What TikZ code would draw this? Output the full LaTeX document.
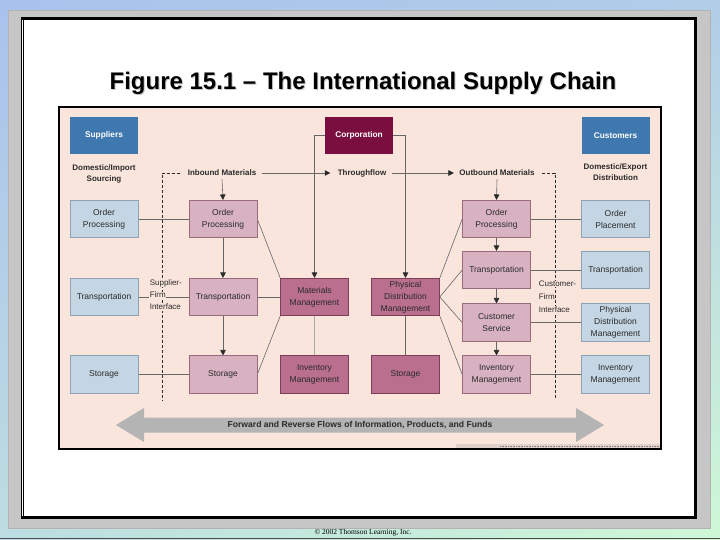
\documentclass[tikz,border=0pt]{standalone}
\usepackage{fontspec}
\setmainfont{Liberation Sans}
\newfontfamily\copyfont{Liberation Serif}
\usetikzlibrary{arrows.meta,shadings}
\definecolor{bgblue}{HTML}{A9C2EC}
\definecolor{bggreen}{HTML}{CFF8D6}
\definecolor{framegrey}{HTML}{C6C6C6}
\definecolor{diagbg}{HTML}{FAE5DD}
\definecolor{lbfill}{HTML}{C4D6E4}
\definecolor{lbline}{HTML}{8CA3B6}
\definecolor{pkfill}{HTML}{D8B2C1}
\definecolor{pkline}{HTML}{9C6A7F}
\definecolor{mvfill}{HTML}{B96F8D}
\definecolor{mvline}{HTML}{7E3E59}
\definecolor{hdblue}{HTML}{3E78AE}
\definecolor{corpc}{HTML}{7A0E3F}
\definecolor{connc}{HTML}{666666}
\definecolor{flowgrey}{HTML}{B4B4B4}
\definecolor{txtc}{HTML}{2A2A2A}
\pgfdeclarelayer{back}
\pgfdeclarelayer{lines}
\pgfsetlayers{back,lines,main}
\begin{document}
\begin{tikzpicture}[x=1pt,y=-1pt,
 bxbase/.style={line width=0.6pt, minimum width=68pt, minimum height=37.5pt, inner sep=1pt, align=center, text=txtc, font=\fontsize{8.5}{12}\selectfont},
 lbbox/.style={bxbase, fill=lbfill, draw=lbline},
 pkbox/.style={bxbase, fill=pkfill, draw=pkline},
 mvbox/.style={bxbase, fill=mvfill, draw=mvline},
 hdbox/.style={bxbase, minimum height=37pt, text=white, font=\bfseries\fontsize{8.3}{11}\selectfont},
 conn/.style={draw=connc, line width=0.6pt},
 arr/.style={conn, -{Triangle[length=5.5pt,width=5.5pt,fill=txtc,color=txtc]}},
 ifline/.style={draw=txtc, line width=0.6pt, dash pattern=on 3pt off 2pt},
 lbl/.style={font=\bfseries\fontsize{8}{11}\selectfont, align=center, text=txtc},
 iflbl/.style={font=\fontsize{8}{10}\selectfont, text=txtc, anchor=west, inner sep=0.6pt, fill=diagbg},
 titlef/.style={font=\bfseries\fontsize{24}{28}\selectfont}
]
\useasboundingbox (0,0) rectangle (720,540);
\begin{pgfonlayer}{back}
\shade[upper left=bgblue, upper right=bgblue!80!bggreen, lower left=bgblue!50!bggreen, lower right=bggreen] (0,0) rectangle (720,540);
\fill[framegrey] (8,10) rectangle (711,529);
\draw[gray!60, line width=0.8pt] (8.5,10.5) rectangle (710.5,528.5);
\fill[white] (21,18) rectangle (697,519);
\draw[black, line width=0.9pt] (21.5,519) -- (21.5,18);
\draw[black, line width=0.5pt] (23.5,516) -- (23.5,20);
\fill[black] (21,17.5) rectangle (697,20.5);
\fill[black] (694,18) rectangle (697,519);
\fill[black] (21,516) rectangle (697,519);
\draw[gray!60!black, line width=0.6pt] (0,538) -- (720,538);
\fill[diagbg] (59,107) rectangle (661,449);
\fill[diagbg!80!gray] (456,444) rectangle (660,448);
\draw[gray, densely dotted, line width=0.6pt] (500,446) -- (659,446);
\draw[black, line width=1.8pt] (59,107) rectangle (661,449);
\node[titlef, text=gray!45] (titleshadow) at (364,84) {Figure 15.1 – The International Supply Chain};
\end{pgfonlayer}

\node[titlef] (title) at (363,83) {Figure 15.1 – The International Supply Chain};
\node[font=\copyfont\fontsize{7.5}{8}\selectfont] (copy) at (363,533) {© 2002 Thomson Learning, Inc.};

\node[hdbox, fill=hdblue] (sup) at (104,135.5) {Suppliers};
\node[hdbox, fill=corpc] (corp) at (359,135.5) {Corporation};
\node[hdbox, fill=hdblue] (cust) at (615.5,135.5) {Customers};
\node[lbl] (dimp) at (104,174) {Domestic/Import\\Sourcing};
\node[lbl] (dexp) at (615.5,172) {Domestic/Export\\Distribution};
\node[lbl] (inb) at (222,173) {Inbound Materials};
\node[lbl] (thr) at (362,173) {Throughflow};
\node[lbl] (outb) at (497,173) {Outbound Materials};

\node[lbbox] (sop) at (104,219) {Order\\Processing};
\node[lbbox] (str) at (104,297) {Transportation};
\node[lbbox] (sst) at (104,374.5) {Storage};
\node[pkbox] (iop) at (223,219) {Order\\Processing};
\node[pkbox] (itr) at (223,297) {Transportation};
\node[pkbox] (ist) at (223,374.5) {Storage};
\node[mvbox] (mm) at (314.5,297) {Materials\\Management};
\node[mvbox] (imm) at (314.5,374.5) {Inventory\\Management};
\node[mvbox] (pdm) at (405.5,297) {Physical\\Distribution\\Management};
\node[mvbox] (cst) at (405.5,374.5) {Storage};
\node[pkbox] (oop) at (496.5,219) {Order\\Processing};
\node[pkbox] (otr) at (496.5,270) {Transportation};
\node[pkbox] (ocs) at (496.5,322.5) {Customer\\Service};
\node[pkbox] (oim) at (496.5,374.5) {Inventory\\Management};
\node[lbbox] (cop) at (615.5,219) {Order\\Placement};
\node[lbbox] (ctr) at (615.5,270) {Transportation};
\node[lbbox] (cpd) at (615.5,322.5) {Physical\\Distribution\\Management};
\node[lbbox] (cim) at (615.5,374.5) {Inventory\\Management};

\node[iflbl] (sf1) at (149,283) {Supplier-};
\node[iflbl] (sf2) at (149,295) {Firm};
\node[iflbl] (sf3) at (149,307) {Interface};
\node[iflbl] (cf1) at (538,284) {Customer-};
\node[iflbl] (cf2) at (538,297) {Firm};
\node[iflbl] (cf3) at (538,310) {Interface};

\coordinate (sfa) at (162,173);
\coordinate (sfb) at (162,400);
\coordinate (cfa) at (555,173);
\coordinate (cfb) at (555,400);

\fill[flowgrey] (116,425) -- (144,408) -- (144,417.5) -- (576,417.5) -- (576,408) -- (604,425) -- (576,442) -- (576,432.5) -- (144,432.5) -- (144,442) -- cycle;
\node[font=\bfseries\fontsize{8.6}{10}\selectfont, text=txtc] (flow) at (360,425) {Forward and Reverse Flows of Information, Products, and Funds};

\begin{pgfonlayer}{lines}
\draw[ifline] ([xshift=-4pt]inb.west) -- (sfa) -- (sfb);
\draw[ifline] ([xshift=4pt]outb.east) -- (cfa) -- (cfb);
\draw[arr] ([xshift=2pt]inb.east) -- ([xshift=-4pt]thr.west);
\draw[arr] ([xshift=2pt]thr.east) -- ([xshift=-2pt]outb.west);
\draw[arr] (inb.south) -- (iop.north);
\draw[arr] (outb.south) -- (oop.north);
\draw[arr] (iop) -- (itr);
\draw[arr] (itr) -- (ist);
\draw[arr] (oop) -- (otr);
\draw[arr] (otr) -- (ocs);
\draw[arr] (ocs) -- (oim);
\draw[arr] (corp.west) -| (mm.north);
\draw[arr] (corp.east) -| (pdm.north);
\draw[conn, draw=connc!55] (mm) -- (imm);
\draw[conn] (pdm) -- (cst);
\draw[conn] (sop) -- (iop);
\draw[conn] (str) -- (itr);
\draw[conn] (sst) -- (ist);
\draw[conn] (itr) -- (mm);
\draw[conn] (oop) -- (cop);
\draw[conn] (otr) -- (ctr);
\draw[conn] (ocs) -- (cpd);
\draw[conn] (oim) -- (cim);
\draw[conn] (iop.east) -- (mm.north west);
\draw[conn] (ist.east) -- (mm.south west);
\draw[conn] (pdm.north east) -- (oop.west);
\draw[conn] (pdm.east) -- (otr.west);
\draw[conn] (pdm.east) -- (ocs.west);
\draw[conn] (pdm.south east) -- (oim.west);
\end{pgfonlayer}
\end{tikzpicture}
\end{document}
